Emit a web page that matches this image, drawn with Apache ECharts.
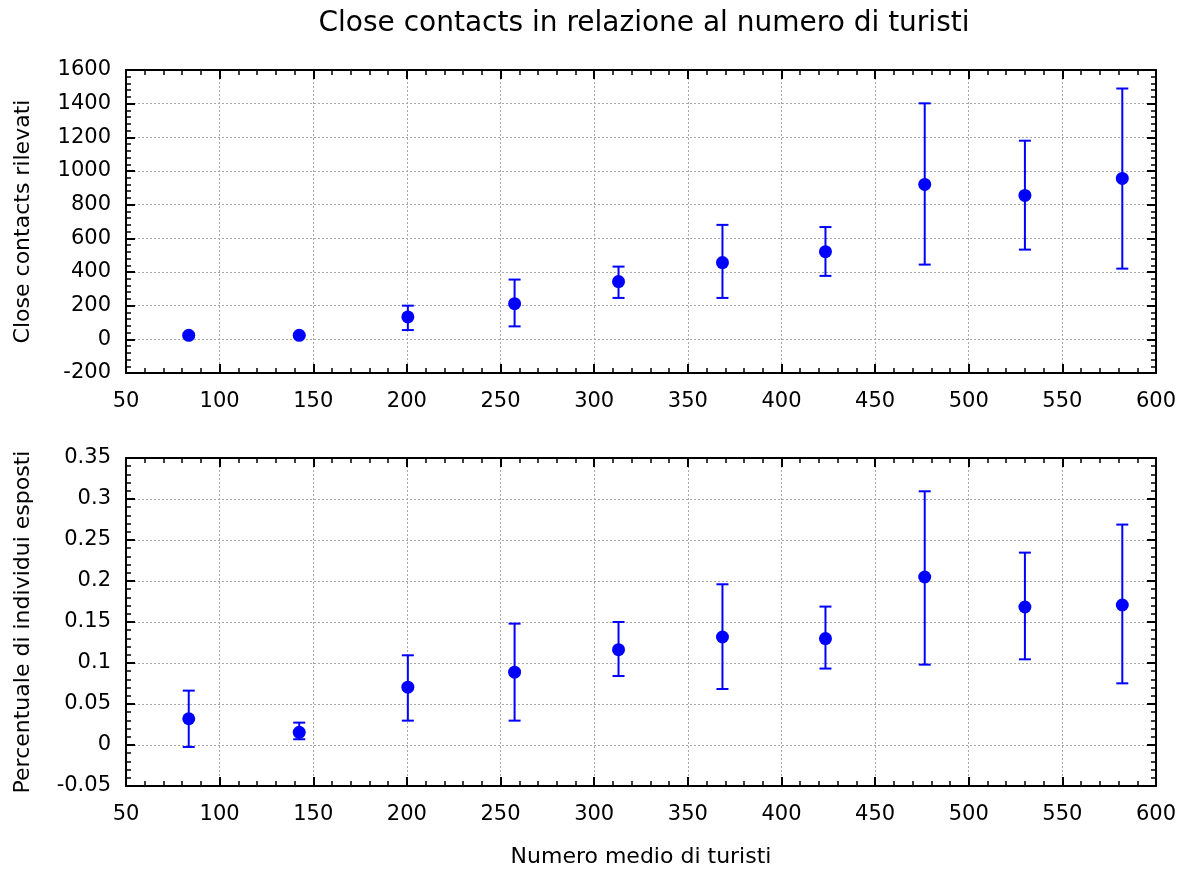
<!DOCTYPE html>
<html>
<head>
<meta charset="utf-8">
<script src="https://cdn.jsdelivr.net/npm/echarts@6/dist/echarts.min.js"></script>
<style>html,body{margin:0;padding:0;background:#fff}#c{width:1190px;height:872px}</style>
</head>
<body>
<div id="c"></div>
<script>
// Data
const turisti = [83.5, 142.5, 200.5, 257.5, 313, 368.5, 423.5, 476.5, 530, 582];
const contatti = [24, 24, 133, 212, 343, 456, 521, 920, 855, 956];
const contattiLow = [14, 18, 55, 77, 246, 246, 377, 444, 533, 420];
const contattiHigh = [34, 30, 200, 355, 432, 680, 667, 1402, 1180, 1490];
const perc = [0.032, 0.0155, 0.0705, 0.0888, 0.1163, 0.1317, 0.1298, 0.2049, 0.1683, 0.1707];
const percLow = [-0.0024, 0.007, 0.0297, 0.0297, 0.0841, 0.0683, 0.0932, 0.098, 0.1045, 0.0752];
const percHigh = [0.0663, 0.0273, 0.1094, 0.148, 0.150, 0.196, 0.1688, 0.3094, 0.2346, 0.2688];

const title = 'Close contacts in relazione al numero di turisti';
const yName1 = 'Close contacts rilevati';
const yName2 = 'Percentuale di individui esposti';
const xName = 'Numero medio di turisti';

const FONT = 'DejaVu Sans';
const BLUE = '#0000ff';
const TICK_FS = 21;
const NAME_FS = 22;

const chart = echarts.init(document.getElementById('c'), null, {renderer: 'canvas'});

const plainFmt = v => String(parseFloat(Number(v).toFixed(4)));

function xAxisDef(grid, pos, show) {
  return {
    type: 'value', gridIndex: grid, position: pos, min: 50, max: 600, interval: 50,
    axisLine: {show: true, onZero: false, lineStyle: {color: '#000', width: 2}},
    axisTick: {show: true, inside: true, length: 9, lineStyle: {color: '#000', width: 2}},
    minorTick: {show: true, splitNumber: 5, length: 5, lineStyle: {color: '#000', width: 1.5}},
    axisLabel: {show: show, color: '#000', fontFamily: FONT, fontSize: TICK_FS, margin: 18, formatter: plainFmt},
    splitLine: {show: show, lineStyle: {color: '#a8a8a8', type: [2, 2], width: 1}},
    minorSplitLine: {show: false}
  };
}
function yAxisDef(grid, pos, show, min, max, interval) {
  return {
    type: 'value', gridIndex: grid, position: pos, min: min, max: max, interval: interval,
    axisLine: {show: true, onZero: false, lineStyle: {color: '#000', width: 2}},
    axisTick: {show: true, inside: true, length: 9, lineStyle: {color: '#000', width: 2}},
    minorTick: {show: true, splitNumber: 5, length: 5, lineStyle: {color: '#000', width: 1.5}},
    axisLabel: {show: show, color: '#000', fontFamily: FONT, fontSize: TICK_FS, margin: 15, formatter: plainFmt},
    splitLine: {show: show, lineStyle: {color: '#a8a8a8', type: [2, 2], width: 1}}
  };
}

function errRender(params, api) {
  const x = api.value(0);
  const p1 = api.coord([x, api.value(1)]);
  const p2 = api.coord([x, api.value(2)]);
  const w = 6;
  const st = {stroke: BLUE, lineWidth: 2};
  return {
    type: 'group',
    children: [
      {type: 'line', shape: {x1: p1[0], y1: p1[1], x2: p2[0], y2: p2[1]}, style: st},
      {type: 'line', shape: {x1: p1[0] - w, y1: p1[1], x2: p1[0] + w, y2: p1[1]}, style: st},
      {type: 'line', shape: {x1: p2[0] - w, y1: p2[1], x2: p2[0] + w, y2: p2[1]}, style: st}
    ]
  };
}

const err1 = turisti.map((x, i) => [x, contattiLow[i], contattiHigh[i]]);
const err2 = turisti.map((x, i) => [x, percLow[i], percHigh[i]]);
const pts1 = turisti.map((x, i) => [x, contatti[i]]);
const pts2 = turisti.map((x, i) => [x, perc[i]]);

const nameStyle = {fontFamily: FONT, fontSize: NAME_FS, color: '#000'};

chart.setOption({
  animation: false,
  backgroundColor: '#fff',
  title: {
    text: title, left: 639, top: 5, textAlign: 'center',
    textStyle: {fontFamily: FONT, fontSize: 28, fontWeight: 'normal', color: '#000'}
  },
  grid: [
    {left: 126, width: 1030, top: 70, height: 303},
    {left: 126, width: 1030, top: 458, height: 328}
  ],
  xAxis: [
    xAxisDef(0, 'bottom', true),
    xAxisDef(0, 'top', false),
    Object.assign(xAxisDef(1, 'bottom', true), {
      name: xName, nameLocation: 'middle', nameGap: 60, nameTextStyle: nameStyle
    }),
    xAxisDef(1, 'top', false)
  ],
  yAxis: [
    Object.assign(yAxisDef(0, 'left', true, -200, 1600, 200), {
      name: yName1, nameLocation: 'middle', nameGap: 92, nameTextStyle: nameStyle
    }),
    yAxisDef(0, 'right', false, -200, 1600, 200),
    Object.assign(yAxisDef(1, 'left', true, -0.05, 0.35, 0.05), {
      name: yName2, nameLocation: 'middle', nameGap: 92, nameTextStyle: nameStyle
    }),
    yAxisDef(1, 'right', false, -0.05, 0.35, 0.05)
  ],
  series: [
    {type: 'custom', xAxisIndex: 0, yAxisIndex: 0, renderItem: errRender, data: err1,
     encode: {x: 0, y: [1, 2]}, z: 3},
    {type: 'scatter', xAxisIndex: 0, yAxisIndex: 0, data: pts1, symbol: 'circle', symbolSize: 13,
     itemStyle: {color: BLUE, opacity: 1}, z: 4},
    {type: 'custom', xAxisIndex: 2, yAxisIndex: 2, renderItem: errRender, data: err2,
     encode: {x: 0, y: [1, 2]}, z: 3},
    {type: 'scatter', xAxisIndex: 2, yAxisIndex: 2, data: pts2, symbol: 'circle', symbolSize: 13,
     itemStyle: {color: BLUE, opacity: 1}, z: 4}
  ]
});
</script>
</body>
</html>
